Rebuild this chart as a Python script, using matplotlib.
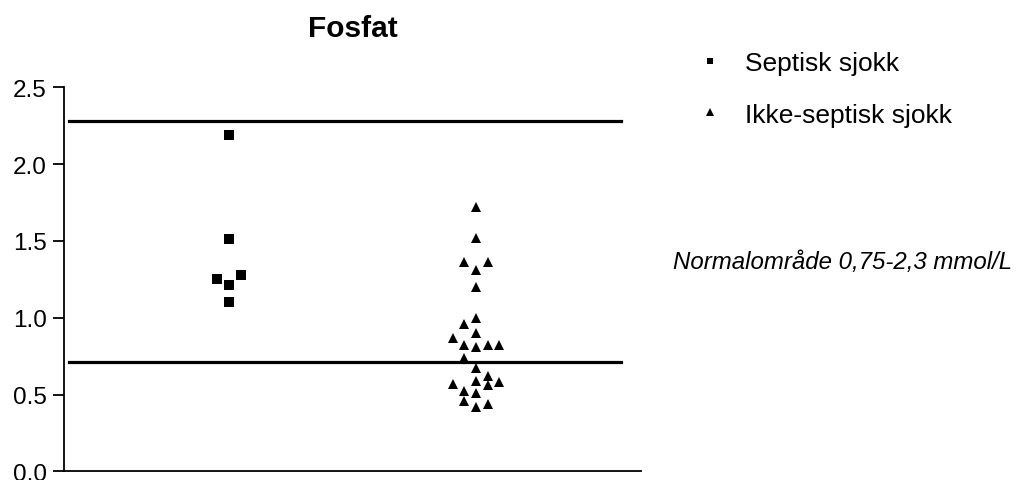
import matplotlib
matplotlib.use("Agg")
import matplotlib.pyplot as plt
import numpy as np

plt.rcParams["font.family"] = ["Liberation Sans", "DejaVu Sans"]

# Serum phosphate (mmol/L) per patient group
groups = ["Septisk sjokk", "Ikke-septisk sjokk"]
septisk = [2.19, 1.51, 1.25, 1.28, 1.21, 1.10]
ikke_septisk = [1.72, 1.52, 1.36, 1.36, 1.31, 1.20, 1.00, 0.96, 0.90, 0.87,
                0.82, 0.81, 0.82, 0.82, 0.74, 0.67, 0.62, 0.59, 0.56, 0.57,
                0.58, 0.52, 0.51, 0.46, 0.42, 0.44]

# Reference lines drawn across the plot
ref_low = 0.71
ref_high = 2.28

yticks = [0.0, 0.5, 1.0, 1.5, 2.0, 2.5]
title = "Fosfat"
note = "Normalområde 0,75-2,3 mmol/L"

# Column-scatter slots (side-by-side placement of points with similar values)
septisk_slot = [0, 0, -1, 1, 0, 0]
ikke_slot = [0, 0, -1, 1, 0, 0, 0, -1, 0, -2, -1, 0, 1, 2, -1, 0, 1, 0, 1,
             -2, 2, -1, 0, -1, 0, 1]
slot_width = 0.0466

fig = plt.figure(figsize=(10.22, 4.81), dpi=100)
ax = fig.add_axes([64 / 1022, 1 - 472.3 / 481, (641 - 64) / 1022, (472.3 - 88.3) / 481])

x1 = 1 + np.array(septisk_slot) * slot_width
x2 = 2 + np.array(ikke_slot) * slot_width
ax.plot(x1, septisk, ls="none", marker="s", ms=6.6, color="black", mew=0,
        label=groups[0], clip_on=False)
ax.plot(x2, ikke_septisk, ls="none", marker="^", ms=7.8, color="black", mew=0,
        label=groups[1], clip_on=False)

ax.axhline(ref_high, xmin=5 / 577, xmax=557 / 577, color="black", lw=2.3)
ax.axhline(ref_low, xmin=5 / 577, xmax=557 / 577, color="black", lw=2.3)

ax.set_xlim(0.332, 2.668)
ax.set_ylim(0, 2.5)
ax.set_yticks(yticks)
ax.set_yticklabels([f"{v:.1f}" for v in yticks])
ax.set_xticks([])

for side in ("top", "right"):
    ax.spines[side].set_visible(False)
for side in ("left", "bottom"):
    ax.spines[side].set_linewidth(1.3)
ax.tick_params(axis="y", direction="out", length=7.9, width=1.3, pad=4.5,
               labelsize=17.5)

fig.text(352.5 / 1022, 1 - 37.3 / 481, title, ha="center", va="baseline",
         fontsize=21.5, fontweight="bold")

leg = ax.legend(loc="upper left", bbox_to_anchor=(696.5 / 1022, 1 - 52 / 481),
                bbox_transform=fig.transFigure, frameon=False, fontsize=19,
                handlelength=1.0, handletextpad=0.85, labelspacing=1.05,
                borderpad=0, borderaxespad=0, markerscale=0.75)

fig.text(673.3 / 1022, 1 - 269.3 / 481, note, ha="left", va="baseline",
         fontsize=17.3, style="italic")

fig.savefig("out.png", dpi=100)
